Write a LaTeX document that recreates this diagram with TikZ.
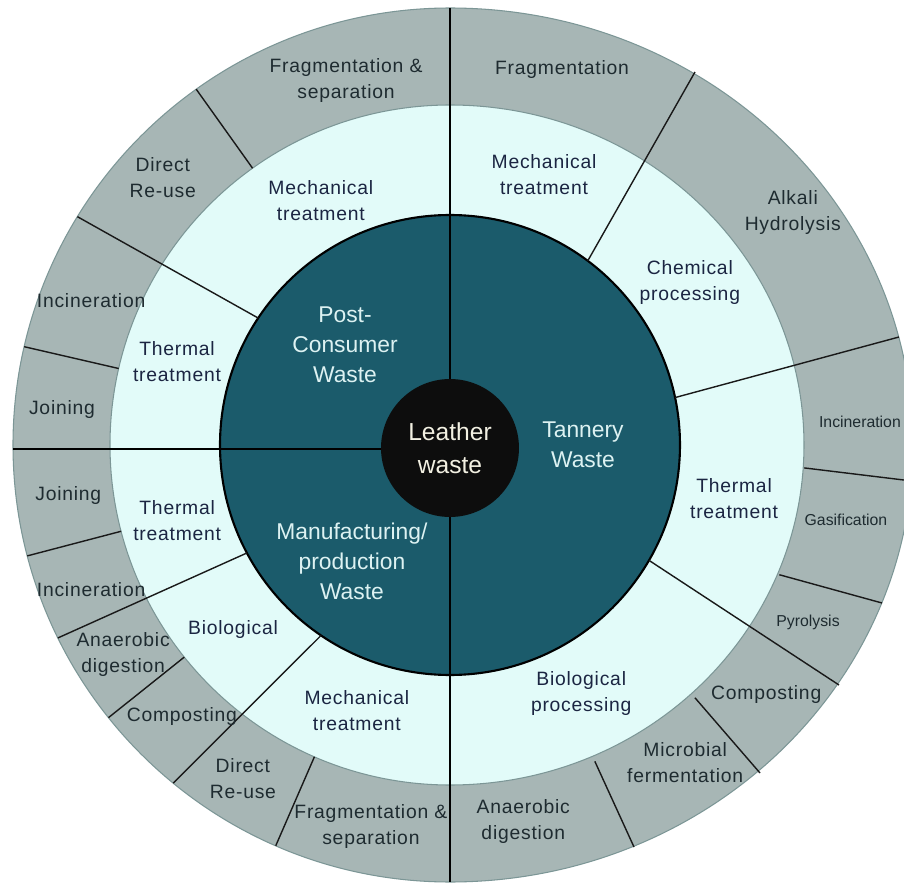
\documentclass[tikz,border=0pt]{standalone}
\usepackage{fontspec}
\setmainfont{Liberation Sans}
\newfontfamily\spacedsans[LetterSpace=4]{Liberation Sans}
\usepackage{xcolor}
\definecolor{outergrey}{HTML}{A7B6B5}
\definecolor{midcyan}{HTML}{E2FBF9}
\definecolor{coreteal}{HTML}{1B5B6B}
\definecolor{rimline}{HTML}{7C9696}
\definecolor{inknavy}{HTML}{1B2542}
\definecolor{inkslate}{HTML}{1E2B30}
\definecolor{corewhite}{HTML}{DDF2F2}
\definecolor{hubwhite}{HTML}{F2F0E2}
\tikzset{
    outerring/.style={
        fill=outergrey,
        draw=rimline,
        line width=0.6pt
    },
    midring/.style={
        fill=midcyan,
        draw=rimline,
        line width=0.6pt
    },
    corering/.style={
        fill=coreteal,
        draw=black,
        line width=1.2pt
    },
    hubdisk/.style={
        circle,
        fill=black!95,
        text=hubwhite,
        align=center,
        minimum size=2.76cm,
        inner sep=0pt,
        font=\fontsize{14}{19}\selectfont
    },
    divider/.style={
        draw=black!90,
        line width=0.8pt
    },
    mainline/.style={
        draw=black,
        line width=1.6pt
    },
    outerlabel/.style={
        align=center,
        inner sep=0pt,
        text=inkslate,
        font=\spacedsans\fontsize{11}{14.8}\selectfont
    },
    smalllabel/.style={
        outerlabel,
        font=\fontsize{9}{12}\selectfont
    },
    midlabel/.style={
        align=center,
        inner sep=0pt,
        text=inknavy,
        font=\spacedsans\fontsize{11}{14.8}\selectfont
    },
    corelabel/.style={
        align=center,
        inner sep=0pt,
        text=corewhite,
        font=\fontsize{13}{17}\selectfont
    }
}
\begin{document}
\begin{tikzpicture}[x=0.02cm, y=0.02cm]
\useasboundingbox[fill=white] (-450,-438) rectangle (454,445);

\path[outerring] (0,437) arc[start angle=90, end angle=270, radius=437]
    arc[start angle=-90, end angle=90, x radius=463, y radius=437] -- cycle;
\path[midring] (0,340) arc[start angle=90, end angle=270, radius=340]
    arc[start angle=-90, end angle=90, x radius=354, y radius=340] -- cycle;
\path[corering] (0,0) circle[radius=230];

\foreach \ia/\ir/\oa in {125.5/340/125.5, 146.5/230/148.5, 167/340/167,
    194.7/340/194.7, 208/230/206.2, 218.6/340/218.6, 235.9/230/230.7, 246.5/340/246.5}
    \draw[divider] (\ia:\ir) -- (\oa:437);
\foreach \ia/\ir/\ox/\oy in {53.2/230/245/373, 11.9/230/449/108, -3.7/355/462/-36,
    -21.5/354/432/-158, -30.1/230/389/-240, -45.9/352/310/-328, -65.4/348/184/-402}
    \draw[divider] (\ia:\ir) -- (\ox,\oy);

\draw[mainline] (0,437) -- (0,-437);
\draw[mainline] (0,-4) -- (-437,-4);

\node[hubdisk] (hub) at (0,-3) {Leather\\waste};

\node[corelabel] (postcons) at (136.4:145) {Post-\\Consumer\\Waste};
\node[corelabel] (tannery) at (133,0) {Tannery\\Waste};
\node[corelabel] (manuf) at (229.8:151.9) {Manufacturing/\\production\\Waste};

\node[midlabel] (mechTL) at (117.9:276) {Mechanical\\treatment};
\node[midlabel] (thermTL) at (163.1:285.3) {Thermal\\treatment};
\node[midlabel] (mechTR) at (70.8:285.9) {Mechanical\\treatment};
\node[midlabel] (chem) at (34.2:290) {Chemical\\processing};
\node[midlabel] (thermR) at (-10.6:289) {Thermal\\treatment};
\node[midlabel] (bioR) at (-62.2:281.4) {Biological\\processing};
\node[midlabel] (thermBL) at (195.4:283) {Thermal\\treatment};
\node[midlabel] (bioBL) at (220.3:284.5) {Biological};
\node[midlabel] (mechBL) at (250.7:281.8) {Mechanical\\treatment};

\node[outerlabel] (fragsepTL) at (105.9:379.5) {Fragmentation \&\\separation};
\node[outerlabel] (reuseTL) at (137.0:392.7) {Direct\\Re-use};
\node[outerlabel] (incinTL) at (158.1:386.8) {Incineration};
\node[outerlabel] (joinTL) at (174.8:389.6) {Joining};
\node[outerlabel] (fragTR) at (73.4:392.3) {Fragmentation};
\node[outerlabel] (alkali) at (34.1:414) {Alkali\\Hydrolysis};
\node[smalllabel] (incinR) at (3.2:410.6) {Incineration};
\node[smalllabel] (gasif) at (-10.7:403) {Gasification};
\node[smalllabel] (pyro) at (-26.3:399.4) {Pyrolysis};
\node[outerlabel] (compR) at (-38.3:403) {Composting};
\node[outerlabel] (microb) at (-53.5:395.4) {Microbial\\fermentation};
\node[outerlabel] (anaerR) at (-79.0:384) {Anaerobic\\digestion};
\node[outerlabel] (fragsepBL) at (258.3:390) {Fragmentation \&\\separation};
\node[outerlabel] (reuseBL) at (238.2:393) {Direct\\Re-use};
\node[outerlabel] (compBL) at (225.4:381.9) {Composting};
\node[outerlabel] (anaerBL) at (212.6:388) {Anaerobic\\digestion};
\node[outerlabel] (incinBL) at (201.9:386.8) {Incineration};
\node[outerlabel] (joinBL) at (187.5:385) {Joining};
\end{tikzpicture}
\end{document}
